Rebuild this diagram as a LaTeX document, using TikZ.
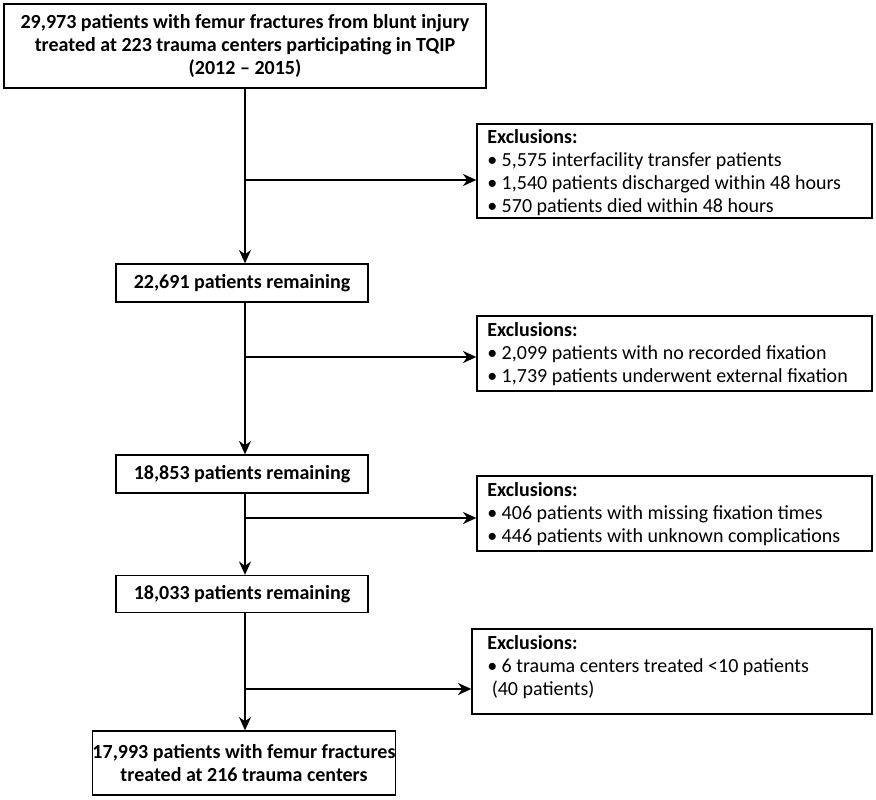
\documentclass[tikz,border=0pt]{standalone}
\usepackage{fontspec}
\setmainfont{Carlito}
\usetikzlibrary{arrows.meta}
\begin{document}
\begin{tikzpicture}[x=0.75pt,y=-0.75pt,
  box/.style={draw,line width=1pt,font=\fontsize{15}{17.5}\selectfont\bfseries,align=center,inner sep=0pt},
  arr/.style={line width=1.8pt,-{Stealth[length=10pt,width=9pt]}}]
\useasboundingbox (0,0) rectangle (876,800);
\node[box,minimum width=482*0.75pt,minimum height=84*0.75pt] (t) at (245,46) {29,973 patients with femur fractures from blunt injury\\treated at 223 trauma centers participating in TQIP\\(2012 -- 2015)};
\node[box,minimum width=252*0.75pt,minimum height=38*0.75pt] (b2) at (242,283) {22,691 patients remaining};
\node[box,minimum width=252*0.75pt,minimum height=38*0.75pt] (b3) at (242,474) {18,853 patients remaining};
\node[box,minimum width=252*0.75pt,minimum height=37*0.75pt] (b4) at (242,594) {18,033 patients remaining};
\node[box,minimum width=253*0.75pt,minimum height=64*0.75pt] (b5) at (244,763) {17,993 patients with femur fractures\\treated at 216 trauma centers};
\node[draw,line width=1pt,minimum width=395*0.75pt,minimum height=94*0.75pt] (e1) at (674.5,171) {};
\node[draw,line width=1pt,minimum width=395*0.75pt,minimum height=75*0.75pt] (e2) at (674.5,353.5) {};
\node[draw,line width=1pt,minimum width=395*0.75pt,minimum height=75*0.75pt] (e3) at (674.5,513.5) {};
\node[draw,line width=1pt,minimum width=400*0.75pt,minimum height=85*0.75pt] (e4) at (672,671.5) {};
\tikzset{tx/.style={anchor=north west,align=left,inner sep=0pt,font=\fontsize{15}{17.3}\selectfont}}
\node[tx] (x1) at (487,129) {\textbf{Exclusions:}\\• 5,575 interfacility transfer patients\\• 1,540 patients discharged within 48 hours\\• 570 patients died within 48 hours};
\node[tx] (x2) at (487,322) {\textbf{Exclusions:}\\• 2,099 patients with no recorded fixation\\• 1,739 patients underwent external fixation};
\node[tx] (x3) at (487,482) {\textbf{Exclusions:}\\• 406 patients with missing fixation times\\• 446 patients with unknown complications};
\node[tx] (x4) at (487,635) {\textbf{Exclusions:}\\• 6 trauma centers treated <10 patients\\\ (40 patients)};
\coordinate (j1) at (245,180); \coordinate (j2) at (245,357);
\coordinate (j3) at (245,518); \coordinate (j4) at (245,689);
\draw[arr] (t.south -| j1) -- (b2.north -| j1);
\draw[arr] (b2.south -| j1) -- (b3.north -| j1);
\draw[arr] (b3.south -| j1) -- (b4.north -| j1);
\draw[arr] (b4.south -| j1) -- (b5.north -| j1);
\draw[arr] (j1) -- (e1.west |- j1);
\draw[arr] (j2) -- (e2.west |- j2);
\draw[arr] (j3) -- (e3.west |- j3);
\draw[arr] (j4) -- (e4.west |- j4);
\end{tikzpicture}
\end{document}
